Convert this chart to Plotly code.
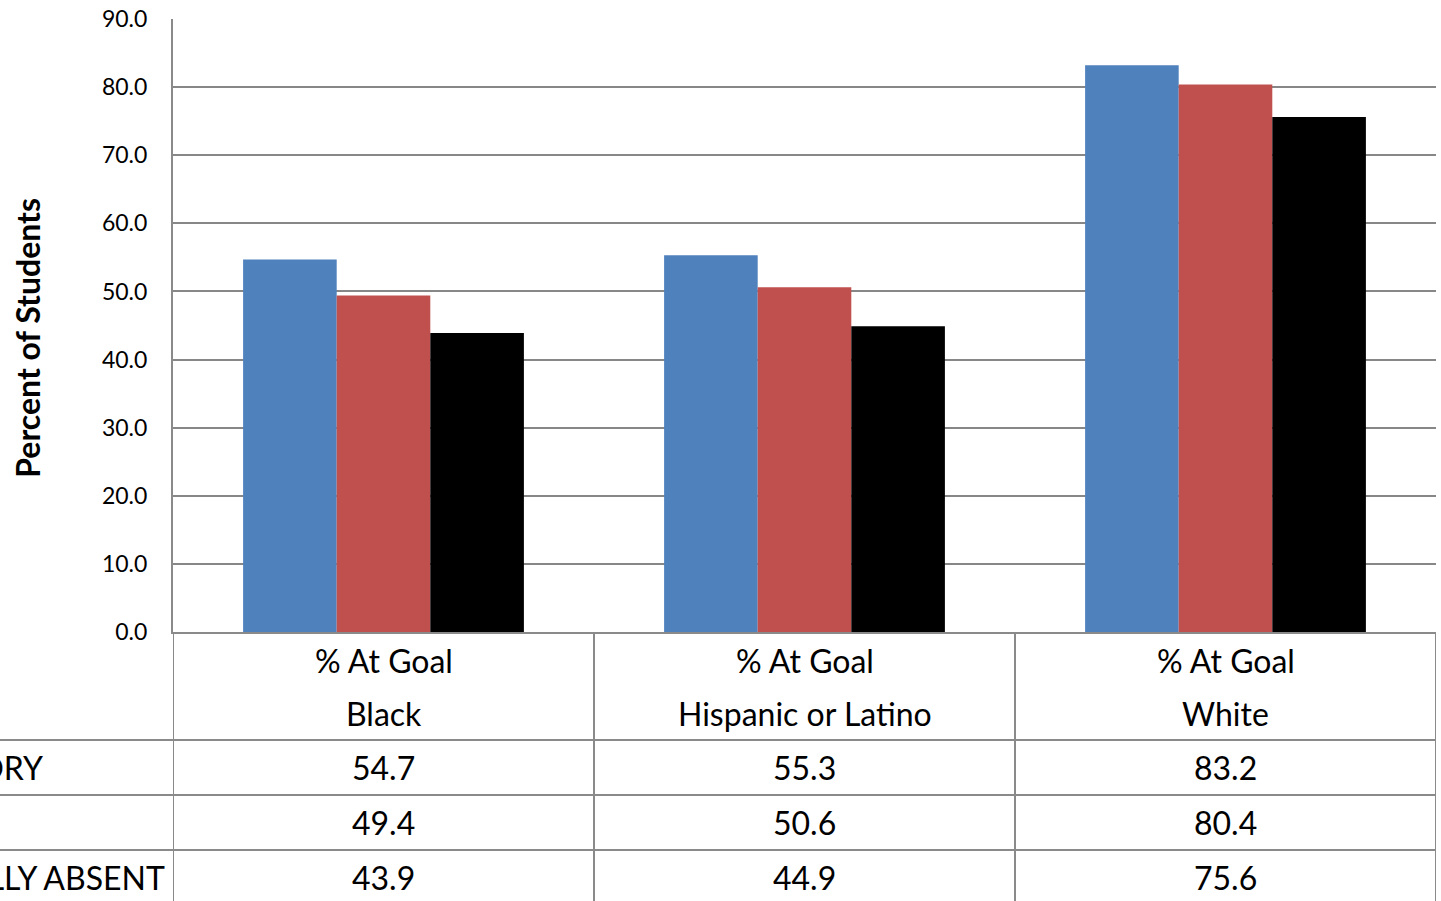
import plotly.graph_objects as go

# Student attendance groups vs. share of students at goal
categories = ["Black", "Hispanic or Latino", "White"]
header_prefix = "% At Goal"
series_names = ["SATISFACTORY", "AT RISK", "CHRONICALLY ABSENT"]
series_values = [
    [54.7, 55.3, 83.2],
    [49.4, 50.6, 80.4],
    [43.9, 44.9, 75.6],
]
series_colors = ["#4F81BD", "#C0504D", "#000000"]
y_ticks = [0, 10, 20, 30, 40, 50, 60, 70, 80, 90]

W, H = 1441, 901
ML, MR, MT, MB = 173, 5, 19, 269
plot_w = W - ML - MR
plot_h = H - MT - MB

FONT = "Lato"
LINE = "#8a8a8a"
TABLE_FONT = dict(family=FONT, size=32, color="#000")


def py(px_below):
    """Paper y for a pixel offset below the x axis."""
    return -px_below / plot_h


def px(pixel_from_left):
    """Paper x for a pixel offset from the plot's left edge."""
    return pixel_from_left / plot_w


fig = go.Figure()
x_idx = list(range(len(categories)))
for name, vals, color in zip(series_names, series_values, series_colors):
    fig.add_trace(go.Bar(x=x_idx, y=vals, name=name, marker_color=color,
                         marker_line_width=0, showlegend=False))

# data table geometry (pixels below the x axis)
header_h = 108
row_h = 55
row_edges = [header_h + i * row_h for i in range(len(series_names) + 1)]

shapes = []
# vertical table lines at category boundaries
for b in [-0.5, 0.5, 1.5, 2.5]:
    shapes.append(dict(type="line", xref="x", yref="paper", x0=b, x1=b,
                       y0=0, y1=py(row_edges[-1] + 10),
                       line=dict(color=LINE, width=2)))
# horizontal row lines, extending across the row-label column
for e in row_edges:
    shapes.append(dict(type="line", xref="paper", yref="paper",
                       x0=px(-ML - 5), x1=1, y0=py(e), y1=py(e),
                       line=dict(color=LINE, width=2)))

annotations = []
# category headers
for i, cat in enumerate(categories):
    annotations.append(dict(x=i, xref="x", y=py(28), yref="paper",
                            text=header_prefix, showarrow=False,
                            font=TABLE_FONT,
                            xanchor="center", yanchor="middle"))
    annotations.append(dict(x=i, xref="x", y=py(81), yref="paper",
                            text=cat, showarrow=False,
                            font=TABLE_FONT,
                            xanchor="center", yanchor="middle"))
# table values and row labels
for r, (name, vals) in enumerate(zip(series_names, series_values)):
    yc = py(row_edges[r] + row_h / 2)
    annotations.append(dict(x=px(-ML - 182), xref="paper", y=yc, yref="paper",
                            text=name, showarrow=False,
                            font=TABLE_FONT,
                            xanchor="left", yanchor="middle"))
    for i, v in enumerate(vals):
        annotations.append(dict(x=i, xref="x", y=yc, yref="paper",
                                text=f"{v:.1f}", showarrow=False,
                                font=TABLE_FONT,
                                xanchor="center", yanchor="middle"))
# y-axis title
annotations.append(dict(x=px(28 - ML), xref="paper", y=0.48, yref="paper",
                        text="<b>Percent of Students</b>", showarrow=False,
                        textangle=-90,
                        font=dict(family=FONT, size=32, color="#000"),
                        xanchor="center", yanchor="middle"))

fig.update_layout(
    width=W, height=H, autosize=False,
    margin=dict(l=ML, r=MR, t=MT, b=MB, pad=0),
    paper_bgcolor="white", plot_bgcolor="white",
    barmode="group", bargap=0.333, bargroupgap=0,
    shapes=shapes, annotations=annotations,
    font=dict(family=FONT, color="#000"),
)
fig.update_xaxes(range=[-0.5, 2.5], showticklabels=False, showgrid=False,
                 zeroline=False, showline=True, linecolor=LINE, linewidth=2,
                 ticks="")
fig.update_yaxes(range=[0, 90], tickvals=y_ticks, tickformat=".1f",
                 showgrid=True, gridcolor="#878787", gridwidth=1.5,
                 zeroline=False, showline=True, linecolor=LINE, linewidth=2,
                 ticks="", ticklabelstandoff=19,
                 tickfont=dict(family=FONT, size=23, color="#000"))

fig.write_html("out.html")
